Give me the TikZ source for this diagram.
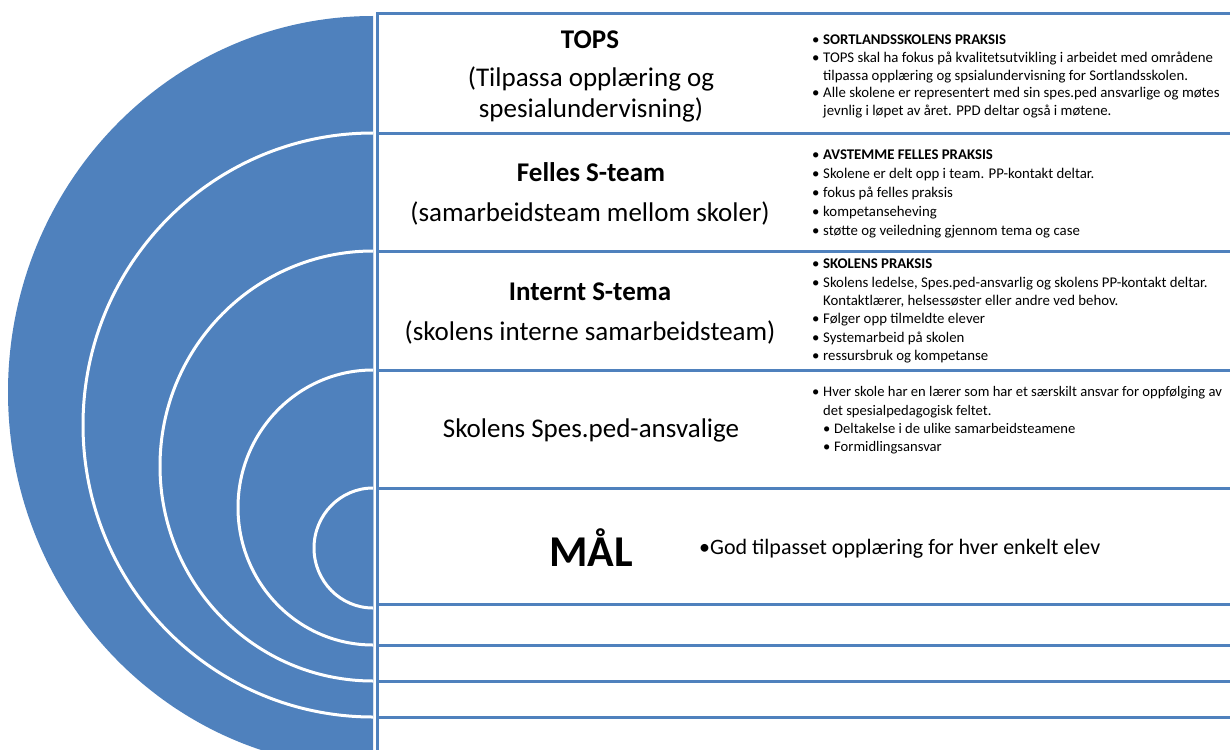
\documentclass[tikz,border=0pt]{standalone}
\usepackage{fontspec}
\setmainfont{Carlito}
\usetikzlibrary{positioning}
\definecolor{ringblue}{RGB}{79,129,189}
\newcommand{\bul}{\makebox[11pt][l]{\textbullet}}
\newcommand{\nobul}{\hspace*{11pt}}

\begin{document}
\begin{tikzpicture}[x=1pt,y=-1pt,
        ring/.style={fill=ringblue,draw=white,line width=3pt},
        rowline/.style={draw=ringblue,line width=3pt},
        title/.style={font=\fontsize{27}{30}\selectfont\bfseries,align=center,inner sep=0pt},
        sub/.style={font=\fontsize{27}{31}\selectfont,align=center,inner sep=0pt},
        info/.style={anchor=north west,align=left,inner sep=0pt,
          font=\fontsize{14.8}{18}\selectfont}]

  \useasboundingbox (0,0) rectangle (1230,749);
  \clip (0,0) rectangle (1230,749);

  % half rings
  \begin{scope}
    \clip (0,0) rectangle (373,749);
    \fill[ringblue] (373,392) ellipse [x radius=365, y radius=376];
    \path[ring] (373,425) ellipse [x radius=290, y radius=292];
    \path[ring] (373,466) ellipse [x radius=213, y radius=215];
    \path[ring] (373,507.5) ellipse [x radius=135, y radius=137.5];
    \path[ring] (373,548) ellipse [x radius=59, y radius=60];
  \end{scope}

  % rows
  \draw[rowline] (377,760) -- (377,14) -- (1240,14);
  \foreach \y in {133,251,370,488,604,645,681,717}
    \draw[rowline] (377,\y) -- (1240,\y);

  % left column
  \node[title] (tops) at (590,40) {TOPS};
  \node[sub] (topssub) at (591,94) {(Tilpassa opplæring og\\spesialundervisning)};
  \node[title] (felles) at (591,172) {Felles S-team};
  \node[sub] (fellessub) at (590,213) {(samarbeidsteam mellom skoler)};
  \node[title] (internt) at (590,292) {Internt S-tema};
  \node[sub] (interntsub) at (590,332) {(skolens interne samarbeidsteam)};
  \node[sub] (spesped) at (591,430) {Skolens Spes.ped-ansvalige};
  \node[title,font=\fontsize{44}{48}\selectfont\bfseries] (maal) at (591,548) {MÅL};
  \node[sub,font=\fontsize{22}{26}\selectfont,anchor=west] (godt) at (699,549)
    {\textbullet God tilpasset opplæring for hver enkelt elev};

  % right column
  \node[info,font=\fontsize{14.8}{17.6}\selectfont] (topsinfo) at (812,35) {%
    \bul\textbf{SORTLANDSSKOLENS PRAKSIS}\\
    \bul TOPS skal ha fokus på kvalitetsutvikling i arbeidet med områdene\\
    \nobul tilpassa opplæring og spsialundervisning for Sortlandsskolen.\\
    \bul Alle skolene er representert med sin spes.ped ansvarlige og møtes\\
    \nobul jevnlig i løpet av året. PPD deltar også i møtene.};
  \node[info,font=\fontsize{14.8}{18.8}\selectfont] (fellesinfo) at (812,150) {%
    \bul\textbf{AVSTEMME FELLES PRAKSIS}\\
    \bul Skolene er delt opp i team. PP-kontakt deltar.\\
    \bul fokus på felles praksis\\
    \bul kompetanseheving\\
    \bul støtte og veiledning gjennom tema og case};
  \node[info,font=\fontsize{14.8}{18.3}\selectfont] (interntinfo) at (812,259) {%
    \bul\textbf{SKOLENS PRAKSIS}\\
    \bul Skolens ledelse, Spes.ped-ansvarlig og skolens PP-kontakt deltar.\\
    \nobul Kontaktlærer, helsessøster eller andre ved behov.\\
    \bul Følger opp tilmeldte elever\\
    \bul Systemarbeid på skolen\\
    \bul ressursbruk og kompetanse};
  \node[info,font=\fontsize{14.6}{18.3}\selectfont] (spespedinfo) at (812,386.5) {%
    \bul Hver skole har en lærer som har et særskilt ansvar for oppfølging av\\
    \nobul det spesialpedagogisk feltet.\\
    \nobul\bul Deltakelse i de ulike samarbeidsteamene\\
    \nobul\bul Formidlingsansvar};

\end{tikzpicture}
\end{document}
